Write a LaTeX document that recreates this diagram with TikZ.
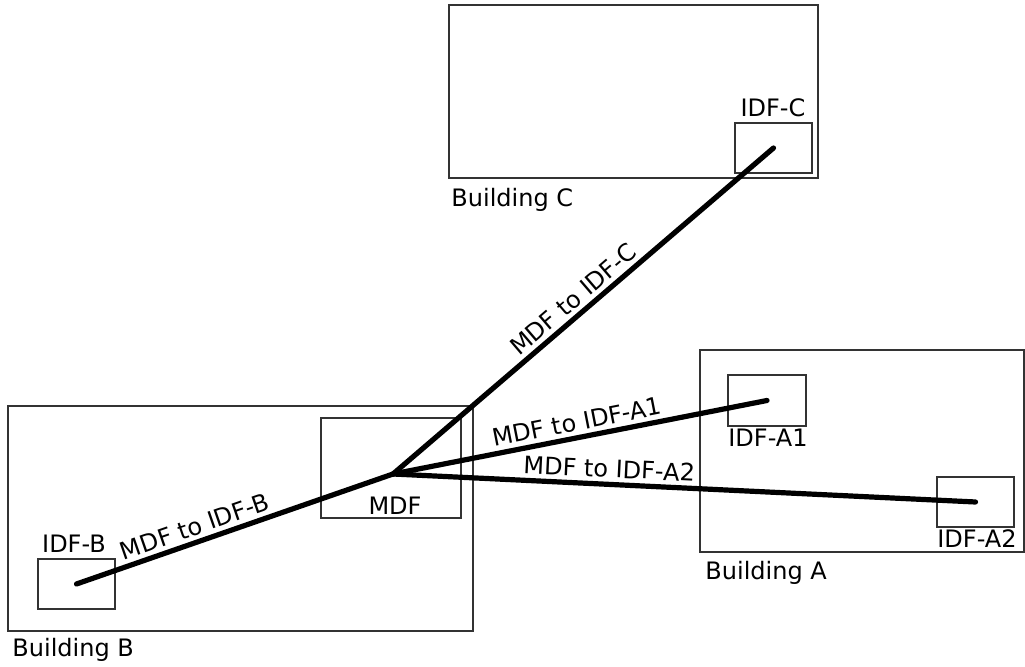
\documentclass[tikz,border=0pt]{standalone}
\usepackage{fontspec}
\setmainfont{DejaVu Sans}
\usetikzlibrary{fit}

\tikzset{
  room/.style={draw=black!80, line width=0.6pt, inner sep=0pt},
  cable/.style={line width=2.6pt, line cap=round},
  tag/.style={font=\fontsize{12}{14}\selectfont, inner sep=0pt, anchor=base},
  runlabel/.style={font=\fontsize{12}{14}\selectfont, sloped, above, inner sep=2pt},
}

\begin{document}
\begin{tikzpicture}[x=0.5pt, y=-0.5pt]
    \useasboundingbox (0,0) rectangle (1025,667);

    % --- Buildings ---
    \node[room, fit={(449,5) (818,178)}] (bldgC) {};
    \node[room, fit={(700,350) (1024,552)}] (bldgA) {};
    \node[room, fit={(8,406) (473,631)}] (bldgB) {};

    % --- Distribution frames ---
    \node[room, fit={(735,123) (812,173)}] (idfC) {};
    \node[room, fit={(728,375) (806,426)}] (idfAone) {};
    \node[room, fit={(937,477) (1014,527)}] (idfAtwo) {};
    \node[room, fit={(38,559) (115,609)}] (idfB) {};
    \node[room, fit={(321,418) (461,518)}] (mdf) {};

    % --- Labels ---
    \node[tag, anchor=base west] (lblC) at (451,207) {Building C};
    \node[tag, anchor=base west] (lblA) at (705,580) {Building A};
    \node[tag, anchor=base west] (lblB) at (12,657) {Building B};
    \node[tag] (lblidfC) at (773,117) {IDF-C};
    \node[tag] (lblidfAone) at (768,447) {IDF-A1};
    \node[tag] (lblidfAtwo) at (977,548) {IDF-A2};
    \node[tag] (lblidfB) at (74,553) {IDF-B};
    \node[tag] (lblmdf) at (395,515) {MDF};

    % --- Cable runs from the MDF ---
    \coordinate (hub) at (393,474);
    \draw[cable] (hub) -- node[runlabel] {MDF to IDF-C} (idfC.center);
    \draw[cable] (hub) -- node[runlabel, pos=0.5] {MDF to IDF-A1} (idfAone.center);
    \draw[cable] (hub) -- node[runlabel, pos=0.37] {MDF to IDF-A2} (idfAtwo.center);
    \draw[cable] (idfB.center) -- node[runlabel, pos=0.39] {MDF to IDF-B} (hub);
\end{tikzpicture}
\end{document}
